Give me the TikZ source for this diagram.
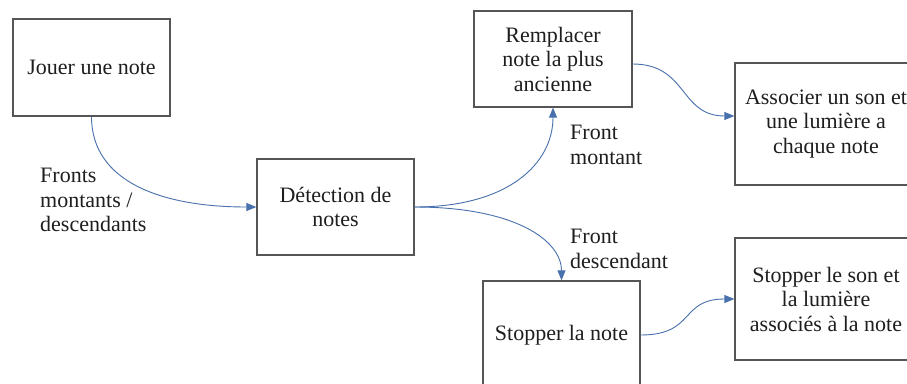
\documentclass[tikz,border=0pt]{standalone}
\usepackage{fontspec}
\setmainfont{Liberation Serif}
\usetikzlibrary{arrows.meta}
\definecolor{boxline}{RGB}{85,85,85}
\definecolor{arrowblue}{RGB}{72,112,172}
\definecolor{txt}{RGB}{30,30,30}
\begin{document}
\begin{tikzpicture}[x=1pt,y=-1pt,
  every node/.style={font=\fontsize{22}{24.5}\selectfont, text=txt},
  procbox/.style={draw=boxline, line width=1.3pt, align=center, inner sep=0pt},
  flow/.style={draw=arrowblue, line width=0.9pt, -{Triangle[length=10pt,width=8pt]}},
  lbl/.style={anchor=north west, align=left, inner sep=0pt}]
\useasboundingbox (0,0) rectangle (907,383);
\clip (0,0) rectangle (907,383);
\fill[white] (0,0) rectangle (907,383);

\node[procbox, minimum width=157pt, minimum height=97pt] (A) at (91.5,67.5) {Jouer une note};
\node[procbox, minimum width=157pt, minimum height=96pt] (B) at (335.5,207) {Détection de\\notes};
\node[procbox, minimum width=158pt, minimum height=96pt] (C) at (553,59) {Remplacer\\note la plus\\ancienne};
\node[procbox, minimum width=182pt, minimum height=122pt] (D) at (826,124) {Associer un son et\\une lumière a\\chaque note};
\node[procbox, minimum width=157pt, minimum height=108pt] (E) at (561.5,335) {Stopper la note};
\node[procbox, minimum width=182pt, minimum height=122pt] (F) at (826,299) {Stopper le son et\\la lumière\\associés à la note};

\draw[flow] (A.south) .. controls +(0,65) and +(-95,0) .. (B.west);
\draw[flow] (B.east) .. controls +(95,0) and +(0,55) .. (C.south);
\draw[flow] (B.east) .. controls +(100,0) and +(0,-40) .. (E.north);
\draw[flow] ([yshift=-5pt]C.east) .. controls +(55,0) and +(-55,0) .. ([yshift=8pt]D.west);
\draw[flow] (E.east) .. controls +(55,0) and +(-55,0) .. (F.west);

\node[lbl] (l1) at (40,168) {Fronts\\montants /\\descendants};
\node[lbl] (l2) at (570,125) {Front\\montant};
\node[lbl] (l3) at (570,229) {Front\\descendant};
\end{tikzpicture}
\end{document}
